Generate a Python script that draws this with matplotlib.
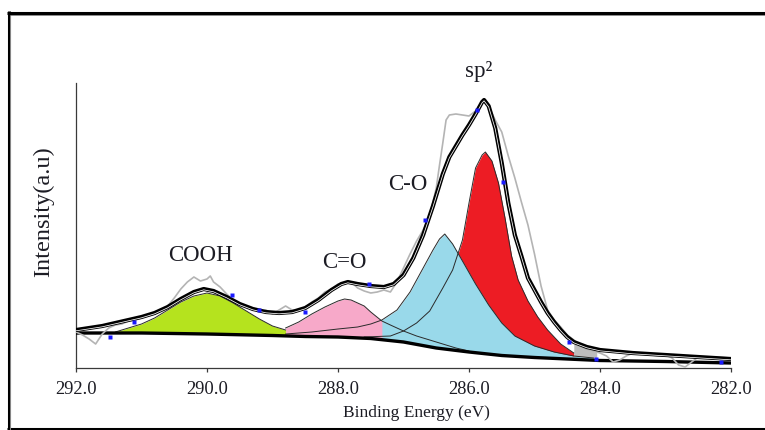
import numpy as np
import matplotlib
matplotlib.use("Agg")
import matplotlib.pyplot as plt
import matplotlib.patheffects as pe
from matplotlib.lines import Line2D

plt.rcParams['font.family'] = ['Liberation Serif', 'DejaVu Serif']

# ---- C 1s spectrum: binding energy (eV) and intensity (a.u.) ----
baseline_be = [292.0, 291.0, 290.0, 289.0, 288.5, 288.0, 287.5, 287.0, 286.5,
               286.0, 285.5, 285.0, 284.5, 284.0, 283.0, 282.0]
baseline_i = [35, 35, 34, 32.5, 31.5, 31, 29.5, 26, 20,
              16, 12.5, 10.5, 9, 7.5, 6.5, 5]

cooh_be = [291.4, 291.2, 291.0, 290.8, 290.6, 290.4, 290.2, 290.0, 289.8,
           289.6, 289.4, 289.2, 289.0, 288.8]
cooh_i = [36, 40, 44, 50, 58, 66, 72, 75, 72, 65, 57, 49, 42, 38]

co_db_be = [288.8, 288.6, 288.4, 288.2, 288.0, 287.9, 287.8, 287.6, 287.5,
            287.33, 287.2, 287.0, 286.8, 286.6, 286.4, 286.2, 286.0]
co_db_i = [40, 46, 54, 61, 67, 69, 68, 62, 56, 47, 43, 37, 32, 28, 24, 20, 17]

co_be = [288.8, 288.4, 288.0, 287.7, 287.5, 287.33, 287.1, 286.9, 286.7,
         286.55, 286.45, 286.37, 286.25, 286.1, 285.9, 285.7, 285.5, 285.3,
         285.0, 284.7, 284.4, 284.1]
co_i = [34, 36, 39, 41, 44, 48, 58, 76, 100, 118, 129, 134, 124, 107, 84,
        63, 45, 32, 22, 16, 12, 10]

sp2_be = [287.6, 287.2, 287.0, 286.8, 286.6, 286.4, 286.25, 286.1, 286.0,
          285.9, 285.8, 285.75, 285.65, 285.55, 285.45, 285.35, 285.25,
          285.1, 284.95, 284.8, 284.6, 284.4]
sp2_i = [31, 32, 37, 45, 57, 80, 98, 128, 165, 200, 213, 216, 207, 185, 150,
         112, 88, 67, 51, 38, 24, 15]

envelope_be = [292.0, 291.8, 291.6, 291.4, 291.2, 291.0, 290.8, 290.6, 290.4,
               290.2, 290.05, 289.9, 289.7, 289.5, 289.3, 289.1, 288.9, 288.7,
               288.5, 288.3, 288.1, 287.95, 287.85, 287.7, 287.5, 287.3,
               287.15, 287.0, 286.85, 286.7, 286.55, 286.4, 286.3, 286.2,
               286.1, 286.0, 285.9, 285.8, 285.77, 285.7, 285.6, 285.5, 285.4,
               285.3, 285.2, 285.1, 285.0, 284.9, 284.8, 284.7, 284.6, 284.5,
               284.4, 284.2, 284.0, 283.5, 283.0, 282.5, 282.0]
envelope_i = [38, 40, 42, 45, 48, 51, 55, 61, 69,
              76, 79, 77, 71, 64, 59, 56, 55, 56,
              60, 68, 78, 84, 86, 84, 82, 81,
              84, 93, 110, 133, 162, 194, 211, 222,
              233, 243, 254, 266, 268, 262, 240, 205, 165,
              133, 112, 90, 78, 66, 55, 46, 38, 31,
              26, 21, 18, 15, 13, 11, 9]

raw_be = [292.0, 291.9, 291.8, 291.7, 291.6, 291.5, 291.4, 291.3, 291.2, 291.1,
          291.0, 290.9, 290.8, 290.7, 290.6, 290.5, 290.4, 290.3, 290.2, 290.1,
          290.0, 289.95, 289.9, 289.8, 289.7, 289.6, 289.5, 289.4, 289.3, 289.2,
          289.1, 289.0, 288.9, 288.8, 288.7, 288.6, 288.5, 288.4, 288.3, 288.2,
          288.1, 288.0, 287.9, 287.8, 287.7, 287.6, 287.5, 287.4, 287.3, 287.2,
          287.1, 287.0, 286.9, 286.8, 286.7, 286.6, 286.5, 286.45, 286.4,
          286.35, 286.3, 286.2, 286.1, 286.0, 285.9, 285.8, 285.75, 285.7,
          285.6, 285.5, 285.4, 285.3, 285.2, 285.1, 285.0, 284.9, 284.8, 284.7,
          284.6, 284.5, 284.4, 284.3, 284.2, 284.1, 284.0, 283.9, 283.8, 283.7,
          283.6, 283.5, 283.3, 283.1, 283.0, 282.9, 282.8, 282.7, 282.6, 282.5,
          282.3, 282.0]
raw_i = [36, 33, 29, 24, 34, 40, 43, 44, 47, 48,
         50, 52, 54, 58, 62, 70, 79, 86, 91, 87,
         89, 92, 86, 81, 74, 68, 64, 62, 60, 57,
         58, 54, 58, 62, 58, 58, 61, 66, 70, 76,
         79, 84, 85, 86, 80, 77, 75, 76, 78, 76,
         86, 100, 114, 127, 138, 152, 180, 203, 225,
         248, 253, 254, 253, 252, 257, 266, 268, 262,
         248, 236, 212, 190, 166, 143, 114, 82, 58, 48,
         41, 33, 28, 23, 19, 17, 15, 12, 6, 8,
         12, 15, 14, 12, 13, 10, 3, 1, 6, 11,
         11, 10]

# end-of-region fill between the sp2 and C-O limits
gap_be = [284.4, 284.25, 284.05]
gap_top = [24, 21, 18]

# instrument markers along the fit
marker_be = [291.48, 291.11, 289.62, 289.2, 288.5, 287.53, 286.67, 285.88,
             285.48, 284.47, 284.06, 282.15]
marker_i = [31, 46, 73, 58, 56, 84, 148, 258, 186, 26, 9, 6]

peak_labels = ["COOH", "C=O", "C-O", "sp\u00b2"]

# ---- figure ----
fig = plt.figure(figsize=(7.65, 4.30), dpi=100)
ax = fig.add_axes([76 / 765, 1 - 368 / 430, (731 - 76) / 765, (368 - 83) / 430])

bx = np.array(baseline_be)[::-1]
by = np.array(baseline_i)[::-1]


def under(be):
    return np.interp(be, bx, by)


def band(be, vals, color, z):
    be = np.asarray(be, float)
    ax.fill_between(be, under(be), vals, color=color, lw=0, zorder=z)


# component fills (C-O over sp2 tail, C=O and COOH on top at the left)
band(sp2_be, sp2_i, '#ED1C24', 2)
band(co_be, co_i, '#99D9EA', 3)
mask = np.array(co_db_be) >= 287.33
band(np.array(co_db_be)[mask], np.array(co_db_i)[mask], '#F7A9C9', 4)
band(cooh_be, cooh_i, '#B5E31E', 5)

gb = np.array(gap_be)
ax.fill_between(gb, np.interp(gb, co_be[::-1], co_i[::-1]), gap_top,
                color='#BDBDBD', lw=0, zorder=5)

# component outlines
for be, vals in [(sp2_be, sp2_i), (co_be, co_i), (co_db_be, co_db_i),
                 (cooh_be, cooh_i)]:
    ax.plot(be, vals, color='#2a2a2a', lw=0.7, zorder=6)

# background
ax.plot(baseline_be, baseline_i, color='black', lw=2.4, zorder=7,
        solid_capstyle='butt')

# raw counts
ax.plot(raw_be, raw_i, color='#B4B4B4', lw=1.2, zorder=8)

# fitted envelope (heavy stroke with a thin inner rule)
ax.plot(envelope_be, envelope_i, color='black', lw=3.0, zorder=9,
        solid_joinstyle='round',
        path_effects=[pe.Stroke(linewidth=3.0, foreground='black'),
                      pe.Stroke(linewidth=0.55, foreground='white',
                                offset=(0, -0.6))])

ax.plot(marker_be, marker_i, ls='none', marker='s', ms=2.8, color='#1a1aff',
        mec='none', zorder=10)

# peak labels
label_pos = [(290.095, 107), (287.905, 99.5), (286.94, 178), (285.85, 291)]
for txt, (x, y) in zip(peak_labels, label_pos):
    ax.text(x, y, txt, ha='center', va='baseline', fontsize=16.5,
            color='#1c1c24', clip_on=False, zorder=11)

ax.set_xlim(292, 282)
ax.set_ylim(0, 285)
ax.set_xticks([292, 290, 288, 286, 284, 282])
ax.set_xticklabels(["292.0", "290.0", "288.0", "286.0", "284.0", "282.0"])
ax.set_yticks([])
for side in ('top', 'right'):
    ax.spines[side].set_visible(False)
for side in ('left', 'bottom'):
    ax.spines[side].set_color('#3a3a3a')
    ax.spines[side].set_linewidth(0.9)
ax.tick_params(axis='x', direction='out', length=3, width=0.9,
               color='#3a3a3a', pad=6, labelsize=13.3, labelcolor='#1c1c24')
ax.patch.set_alpha(0)

fig.text(416 / 765, 1 - 417 / 430, "Binding Energy (eV)", ha='center',
         va='baseline', fontsize=12.5, color='#1c1c24')
fig.text(44 / 765, 1 - 212 / 430, "Intensity(a.u)", ha='center',
         va='center', rotation=90, fontsize=17.5, color='#1c1c24')

# outer frame
W, H = 765, 430
for xs, ys, c, w in [([7, W], [H - 13, H - 13], 'black', 2.2),
                     ([8.5, 8.5], [H - 11, 0], 'black', 2.2),
                     ([7, W], [H - 428.5, H - 428.5], 'black', 2.2),
                     ([10, W], [H - 14.6, H - 14.6], '#8a8a8a', 0.7),
                     ([10.1, 10.1], [H - 14.6, 0], '#8a8a8a', 0.7)]:
    fig.add_artist(Line2D(np.array(xs) / W, np.array(ys) / H, color=c, lw=w,
                          transform=fig.transFigure, solid_capstyle='butt'))

fig.savefig("out.png", dpi=100)
